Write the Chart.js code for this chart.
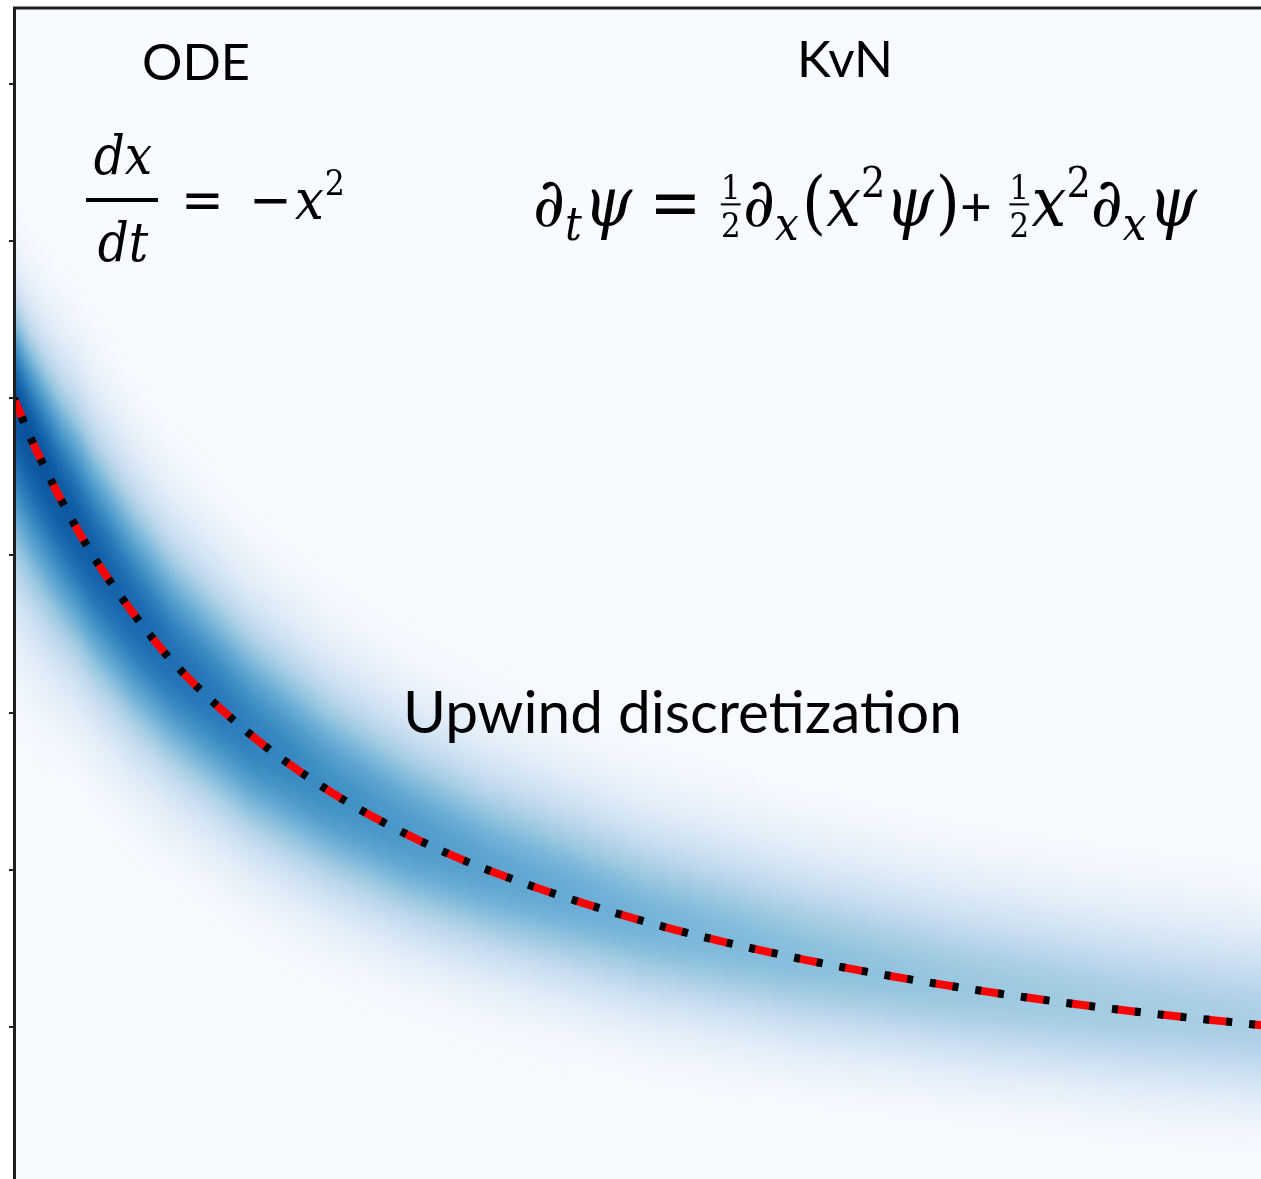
<!DOCTYPE html>
<html>
<head>
<meta charset="utf-8">
<script src="https://cdn.jsdelivr.net/npm/chart.js@4.4.0/dist/chart.umd.min.js"></script>
<style>
  html, body { margin: 0; padding: 0; background: #fff; overflow: hidden; }
  #wrap { position: absolute; left: 0; top: 0; width: 1276px; height: 1184px; }
</style>
</head>
<body>
<div id="wrap"><canvas id="Chart1"></canvas></div>
<script>
// trajectory of dx/dt = -x^2 starting from x = 5
const timePoints = [0, 0.01, 0.02, 0.03, 0.05, 0.075, 0.1, 0.15, 0.2, 0.25, 0.3, 0.4, 0.5, 0.6, 0.7, 0.8];
const odeValues = [5.0, 4.76, 4.55, 4.35, 4.0, 3.64, 3.33, 2.86, 2.5, 2.22, 2.0, 1.67, 1.43, 1.25, 1.11, 1.0];

// KvN density from the upwind scheme: spread above / below the trajectory, peak level (0..1)
const bandTimes = [0, 0.04, 0.1, 0.2, 0.3, 0.4, 0.5, 0.6, 0.7, 0.8];
const bandSpreadUp = [0.42, 0.54, 0.52, 0.48, 0.45, 0.43, 0.42, 0.41, 0.4, 0.4];
const bandSpreadDown = [0.72, 0.58, 0.5, 0.44, 0.4, 0.38, 0.36, 0.34, 0.33, 0.32];
const bandPeak = [0.88, 0.84, 0.76, 0.64, 0.55, 0.48, 0.43, 0.39, 0.36, 0.34];

const yTicks = [1, 2, 3, 4, 5, 6, 7];

const labelFont = 'Lato, "Open Sans", sans-serif';
const mathFont = '"DejaVu Serif Condensed", "DejaVu Serif", serif';

// matplotlib "Blues"
const bluesStops = [
  [247, 251, 255], [222, 235, 247], [198, 219, 239], [158, 202, 225], [107, 174, 214],
  [66, 146, 198], [33, 113, 181], [8, 81, 156], [8, 48, 107]
];
function blues(v) {
  v = Math.max(0, Math.min(1, v));
  const p = v * 8;
  const i = Math.min(7, Math.floor(p));
  const f = p - i;
  const a = bluesStops[i], b = bluesStops[i + 1];
  const c = a.map((ch, k) => Math.round(ch + (b[k] - ch) * f));
  return `rgb(${c[0]},${c[1]},${c[2]})`;
}

function lerpAt(xs, ys, x) {
  if (x <= xs[0]) return ys[0];
  for (let i = 1; i < xs.length; i++) {
    if (x <= xs[i]) {
      const f = (x - xs[i - 1]) / (xs[i] - xs[i - 1]);
      return ys[i - 1] + (ys[i] - ys[i - 1]) * f;
    }
  }
  return ys[ys.length - 1];
}

const bandPlugin = {
  id: 'kvnBand',
  beforeDraw(chart) {
    const { ctx, chartArea: a } = chart;
    ctx.save();
    ctx.fillStyle = '#f7fbff';
    ctx.fillRect(a.left, a.top, a.right - a.left, a.bottom - a.top);
    ctx.restore();
  },
  beforeDatasetsDraw(chart) {
    const { ctx, chartArea: a, scales } = chart;
    const xs = scales.x, ys = scales.y;
    ctx.save();
    ctx.beginPath();
    ctx.rect(a.left, a.top, a.right - a.left, a.bottom - a.top);
    ctx.clip();
    for (let px = Math.floor(a.left); px < a.right; px++) {
      const t = xs.getValueForPixel(px + 0.5);
      const c = lerpAt(timePoints, odeValues, t);
      const up = lerpAt(bandTimes, bandSpreadUp, t);
      const dn = lerpAt(bandTimes, bandSpreadDown, t);
      const pk = lerpAt(bandTimes, bandPeak, t);
      const yc = ys.getPixelForValue(c);
      const sUp = yc - ys.getPixelForValue(c + up);
      const sDn = ys.getPixelForValue(c - dn) - yc;
      const top = yc - 3 * sUp, bot = yc + 3 * sDn;
      const g = ctx.createLinearGradient(0, top, 0, bot);
      for (let u = -3; u <= 3.001; u += 0.25) {
        const y = u < 0 ? yc + u * sUp : yc + u * sDn;
        g.addColorStop((y - top) / (bot - top), blues(pk * Math.exp(-u * u / 2)));
      }
      ctx.fillStyle = g;
      ctx.fillRect(px, top, 1, bot - top);
    }
    ctx.restore();
  },
  afterDatasetsDraw(chart) {
    const { ctx, chartArea: a } = chart;
    ctx.save();
    ctx.strokeStyle = '#1e1e1e';
    ctx.lineWidth = 3;
    ctx.beginPath();
    ctx.moveTo(a.left + 0.5, a.bottom + 2);
    ctx.lineTo(a.left + 0.5, a.top);
    ctx.lineTo(a.right + 2, a.top);
    ctx.stroke();
    ctx.restore();
    drawLabels(ctx);
  }
};

function drawFitted(ctx, text, left, baseline, width) {
  ctx.font = `100px ${labelFont}`;
  const size = 100 * width / ctx.measureText(text).width;
  ctx.font = `${size}px ${labelFont}`;
  ctx.fillText(text, left, baseline);
}

// pieces of the KvN equation
const kvnPieces = [
  { t: '∂', it: true }, { t: 't', it: true, scale: 0.68, dy: 0.2 }, { t: 'ψ', it: true, gap: 0.03 },
  { t: '=', gap: 0.25 }, { frac: ['1', '2'], gap: 0.25 },
  { t: '∂', it: true }, { t: 'x', it: true, scale: 0.68, dy: 0.2 },
  { t: '(', gap: 0.05 }, { t: 'x', it: true }, { t: '2', scale: 0.62, dy: -0.42 },
  { t: 'ψ', it: true }, { t: ')', gap: 0.03 },
  { t: '+', sans: true, scale: 0.8 },
  { frac: ['1', '2'], gap: 0.22 }, { t: 'x', it: true }, { t: '2', scale: 0.62, dy: -0.42 },
  { t: '∂', it: true }, { t: 'x', it: true, scale: 0.68, dy: 0.2 }, { t: 'ψ', it: true, gap: 0.03 }
];

function mathRun(ctx, pieces, size, x0, baseline, draw) {
  let x = x0;
  for (const p of pieces) {
    x += (p.gap || 0) * size;
    if (p.frac) {
      const fs = size * 0.5;
      const w = size * 0.36;
      if (draw) {
        ctx.font = `${fs}px ${mathFont}`;
        ctx.textAlign = 'center';
        ctx.fillText(p.frac[0], x + w / 2, baseline - size * 0.4);
        ctx.fillText(p.frac[1], x + w / 2, baseline + size * 0.16);
        ctx.fillRect(x + w * 0.1, baseline - size * 0.33, w * 0.8, Math.max(1.5, size * 0.03));
        ctx.textAlign = 'left';
      }
      x += w;
      continue;
    }
    const fs = size * (p.scale || 1);
    ctx.font = `${p.it ? 'italic ' : ''}${fs}px ${p.sans ? labelFont : mathFont}`;
    if (draw) ctx.fillText(p.t, x, baseline + (p.dy || 0) * size);
    x += ctx.measureText(p.t).width;
  }
  return x - x0;
}

// dx/dt = -x^2
const odePieces = [
  { t: '=', gap: 0 }, { t: '\u2212', gap: 0.45 }, { t: 'x', it: true, gap: 0.05 },
  { t: '2', scale: 0.62, dy: -0.42, gap: 0.02 }
];

function drawLabels(ctx) {
  ctx.save();
  ctx.fillStyle = '#000';
  ctx.textBaseline = 'alphabetic';
  ctx.textAlign = 'left';

  drawFitted(ctx, 'ODE', 142, 80, 108);
  drawFitted(ctx, 'KvN', 797, 77, 96);
  drawFitted(ctx, 'Upwind discretization', 403, 733, 559);

  ctx.textAlign = 'center';
  ctx.font = `italic 54px ${mathFont}`;
  ctx.fillText('dx', 123, 174);
  ctx.fillText('dt', 123, 261);
  ctx.fillRect(86, 198, 72, 4);
  ctx.textAlign = 'left';
  const wOde = mathRun(ctx, odePieces, 54, 0, 0, false);
  mathRun(ctx, odePieces, 54 * 164 / wOde, 181, 219, true);

  // KvN equation, scaled to its span
  const w0 = mathRun(ctx, kvnPieces, 56, 0, 0, false);
  const size = 56 * 664 / w0;
  mathRun(ctx, kvnPieces, size, 533, 226, true);
  ctx.restore();
}

const ctx = document.getElementById('Chart1');
const trajectory = timePoints.map((t, i) => ({ x: t, y: odeValues[i] }));

const config = {
  type: 'line',
  data: {
    datasets: [
      {
        label: 'ODE dots',
        data: trajectory,
        borderColor: '#000',
        borderWidth: 8,
        borderDash: [6, 17],
        borderDashOffset: 3,
        borderCapStyle: 'butt',
        pointRadius: 0,
        cubicInterpolationMode: 'monotone',
        order: 0
      },
      {
        label: 'ODE',
        data: trajectory,
        borderColor: '#ff0000',
        borderWidth: 8,
        borderDash: [23, 23],
        borderCapStyle: 'butt',
        pointRadius: 0,
        cubicInterpolationMode: 'monotone',
        order: 1
      }
    ]
  },
  options: {
    responsive: true,
    maintainAspectRatio: false,
    devicePixelRatio: 1,
    animation: false,
    layout: { padding: { top: 8, left: 0, right: 0, bottom: 0 } },
    plugins: { legend: { display: false }, tooltip: { enabled: false } },
    scales: {
      x: { type: 'linear', display: false, min: 0, max: 0.8 },
      y: {
        type: 'linear',
        min: 0,
        max: 7.484,
        afterBuildTicks: (scale) => { scale.ticks = yTicks.map(v => ({ value: v })); },
        afterFit: (scale) => { scale.width = 14; },
        ticks: { display: false },
        border: { display: false },
        grid: { drawOnChartArea: false, drawTicks: true, tickLength: 5, color: '#222', lineWidth: 2 }
      }
    }
  },
  plugins: [bandPlugin]
};

const myChart = new Chart(ctx, config);
</script>
</body>
</html>
